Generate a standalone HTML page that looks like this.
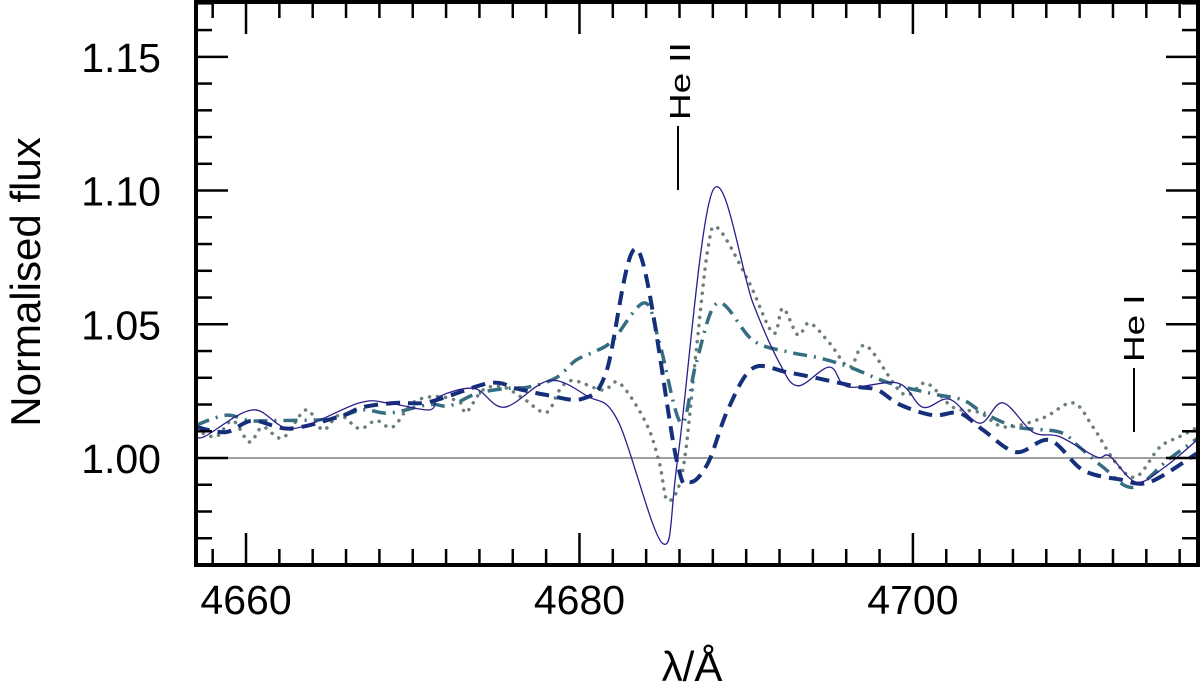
<!DOCTYPE html>
<html><head><meta charset="utf-8"><style>
html,body{margin:0;padding:0;background:#fff;}
svg{display:block;font-family:"Liberation Sans",sans-serif;}
</style></head><body>
<svg id="chart" width="1200" height="689" viewBox="0 0 1200 689" xmlns="http://www.w3.org/2000/svg">
<g id="series"></g>
<g id="axes"></g>
<text transform="translate(40,282) rotate(-90)" text-anchor="middle" font-size="42">Normalised flux</text>
<text x="692" y="681" text-anchor="middle" font-size="42">λ/Å</text>
<g>
<line x1="678" y1="126" x2="678" y2="190" stroke="#000" stroke-width="2"/>
<text transform="translate(690,120) rotate(-90) scale(1.15,0.9)" font-size="32">He II</text>
</g>
<g>
<line x1="1134" y1="368" x2="1134" y2="432" stroke="#000" stroke-width="2"/>
<text transform="translate(1144,362) rotate(-90) scale(1.15,0.9)" font-size="32">He I</text>
</g>
</svg>
<script>
const xTickLabels=[4660,4680,4700];
const yTickLabels=["1.00","1.05","1.10","1.15"];
const yTickValues=[1.00,1.05,1.10,1.15];
const solidWl=[4657,4657.5,4660.4,4662.8,4666.8,4668.5,4671,4671.6,4673.7,4675.5,4678.2,4680.5,4682.3,4685.0,4685.9,4688.0,4690.4,4692,4693.1,4695,4696.1,4699.1,4700.6,4702.2,4704,4705.4,4707.2,4708.8,4711.0,4711.8,4713.4,4715.1,4717.1];
const solidFlux=[1.009,1.008,1.018,1.011,1.0206,1.0206,1.018,1.023,1.026,1.019,1.029,1.023,1.014,0.968,1.0,1.100,1.058,1.0355,1.027,1.034,1.0266,1.028,1.019,1.022,1.013,1.0206,1.0097,1.008,1.0004,1.0007,0.991,0.9966,1.007];
const dashWl=[4657,4658.8,4660.4,4662.6,4665.6,4667,4669,4671,4674.6,4676.2,4678,4680.2,4681.6,4683.5,4685.8,4686.6,4687.7,4688.9,4690.4,4692.5,4694.9,4696.7,4697.9,4699.2,4701.2,4702.8,4704.2,4706.2,4708.2,4710.2,4712.4,4714.2,4717.1];
const dashFlux=[1.0116,1.0097,1.014,1.011,1.0155,1.019,1.0206,1.021,1.028,1.026,1.0236,1.0222,1.032,1.0778,1.0,0.991,0.998,1.018,1.0336,1.032,1.029,1.0266,1.0254,1.02,1.016,1.0168,1.0105,1.0022,1.0067,0.9955,0.992,0.991,1.002];
const dashDotWl=[4657,4658.8,4660.2,4661.6,4665,4667,4668.6,4671,4672.2,4673.8,4675.6,4677,4678.6,4679.8,4681,4682,4683.9,4684.8,4686.1,4687,4688.3,4690.4,4692.5,4694.4,4696.2,4698.6,4701.2,4703,4704.2,4706.2,4708.8,4710,4711.4,4713.2,4715.3,4717.1];
const dashDotFlux=[1.0123,1.016,1.014,1.014,1.0146,1.018,1.0168,1.02,1.0195,1.024,1.026,1.0266,1.03,1.0366,1.04,1.044,1.058,1.043,1.013,1.0355,1.058,1.044,1.0397,1.0374,1.034,1.028,1.024,1.0217,1.017,1.0116,1.0097,1.004,0.9966,0.989,0.9993,1.0075];
const dotWl=[4657,4658.2,4659.2,4660.2,4661,4662.2,4663.6,4664.6,4665.6,4666.8,4667.8,4668.8,4670,4671.4,4672.8,4673.2,4674.2,4675.4,4676.6,4678,4678.8,4679.6,4681.4,4682.4,4684,4684.8,4685.3,4686.2,4687,4687.7,4688.3,4690.1,4691.6,4692.2,4693.1,4693.8,4695,4696.2,4697.2,4699.4,4700.8,4702.4,4704,4705.5,4707.8,4709.6,4710.8,4712.2,4713.4,4714.8,4716,4717.1];
const dotFlux=[1.0105,1.008,1.014,1.006,1.0116,1.0075,1.018,1.0105,1.016,1.011,1.014,1.0116,1.0206,1.023,1.021,1.017,1.0254,1.0266,1.0224,1.017,1.0254,1.029,1.0254,1.028,1.013,0.998,0.984,0.9955,1.040,1.078,1.086,1.0666,1.0467,1.056,1.046,1.0505,1.043,1.034,1.042,1.024,1.028,1.019,1.017,1.0116,1.015,1.0206,1.0116,0.998,0.993,1.004,1.008,1.0116];

const L=196,R=1198,T=2,B=565;
const X0=4657,X1=4717.1,Y0=0.96,Y1=1.1705;
function xs(v){return L+(v-X0)/(X1-X0)*(R-L);}
function ys(v){return B-(v-Y0)/(Y1-Y0)*(B-T);}
const NS="http://www.w3.org/2000/svg";
function smoothPath(wl,fl){
  const p=wl.map((w,i)=>[xs(w),ys(fl[i])]);
  let d="M"+p[0][0].toFixed(1)+","+p[0][1].toFixed(1);
  for(let i=0;i<p.length-1;i++){
    const p0=p[i-1]||p[i],p1=p[i],p2=p[i+1],p3=p[i+2]||p2;
    const c1=[p1[0]+(p2[0]-p0[0])/6,p1[1]+(p2[1]-p0[1])/6];
    const c2=[p2[0]-(p3[0]-p1[0])/6,p2[1]-(p3[1]-p1[1])/6];
    d+=" C"+c1[0].toFixed(1)+","+c1[1].toFixed(1)+" "+c2[0].toFixed(1)+","+c2[1].toFixed(1)+" "+p2[0].toFixed(1)+","+p2[1].toFixed(1);
  }
  return d;
}
const sg=document.getElementById("series");
const ag=document.getElementById("axes");
const ref=document.createElementNS(NS,"line");


ref.setAttribute("x1",L);ref.setAttribute("x2",R);ref.setAttribute("y1",ys(1));ref.setAttribute("y2",ys(1));
ref.setAttribute("stroke","#808080");ref.setAttribute("stroke-width","1.5");
sg.appendChild(ref);
function addSeries(name,wl,fl,color,width,dash,cap){
  const p=document.createElementNS(NS,"path");
  
  
  p.setAttribute("d",smoothPath(wl,fl));
  p.setAttribute("fill","none");p.setAttribute("stroke",color);p.setAttribute("stroke-width",width);
  if(dash)p.setAttribute("stroke-dasharray",dash);
  p.setAttribute("stroke-linecap",cap||"butt");
  sg.appendChild(p);
}
addSeries('dotted-spectrum',dotWl,dotFlux,"#6b7f7d",3.5,"0.1 8","round");
addSeries('dashdot-spectrum',dashDotWl,dashDotFlux,"#356e80",3.5,"14 7 2 7");
addSeries('dashed-spectrum',dashWl,dashFlux,"#15307a",4,"14 8");
addSeries('solid-spectrum',solidWl,solidFlux,"#2a1f8a",1.3,null);
const fr=document.createElementNS(NS,"rect");


fr.setAttribute("x",L);fr.setAttribute("y",T);fr.setAttribute("width",R-L);fr.setAttribute("height",B-T);
fr.setAttribute("fill","none");fr.setAttribute("stroke","#000");fr.setAttribute("stroke-width","4");
ag.appendChild(fr);
function ln(x1,y1,x2,y2,w){
  const l=document.createElementNS(NS,"line");
  
  
  l.setAttribute("x1",x1);l.setAttribute("y1",y1);l.setAttribute("x2",x2);l.setAttribute("y2",y2);
  l.setAttribute("stroke","#000");l.setAttribute("stroke-width",w||2.5);ag.appendChild(l);
}
for(let w=4658;w<=4716;w+=2){
  const major=(w%20===0);const len=major?32:16;const x=xs(w);
  ln(x,B,x,B-len);ln(x,T,x,T+len);
}
for(let k=96;k<=117;k++){
  const v=k/100;const major=(k%5===0);const len=major?32:16;const y=ys(v);
  ln(L,y,L+len,y);ln(R,y,R-len,y);
}
xTickLabels.forEach(v=>{
  const t=document.createElementNS(NS,"text");
  
  
  t.setAttribute("x",xs(v));t.setAttribute("y",614);t.setAttribute("text-anchor","middle");t.setAttribute("font-size","41");
  t.textContent=v;ag.appendChild(t);
});
yTickLabels.forEach((s,i)=>{
  const t=document.createElementNS(NS,"text");
  
  
  t.setAttribute("x",161);t.setAttribute("y",ys(yTickValues[i])+15);t.setAttribute("text-anchor","end");t.setAttribute("font-size","41");
  t.textContent=s;ag.appendChild(t);
});
</script>
</body></html>
